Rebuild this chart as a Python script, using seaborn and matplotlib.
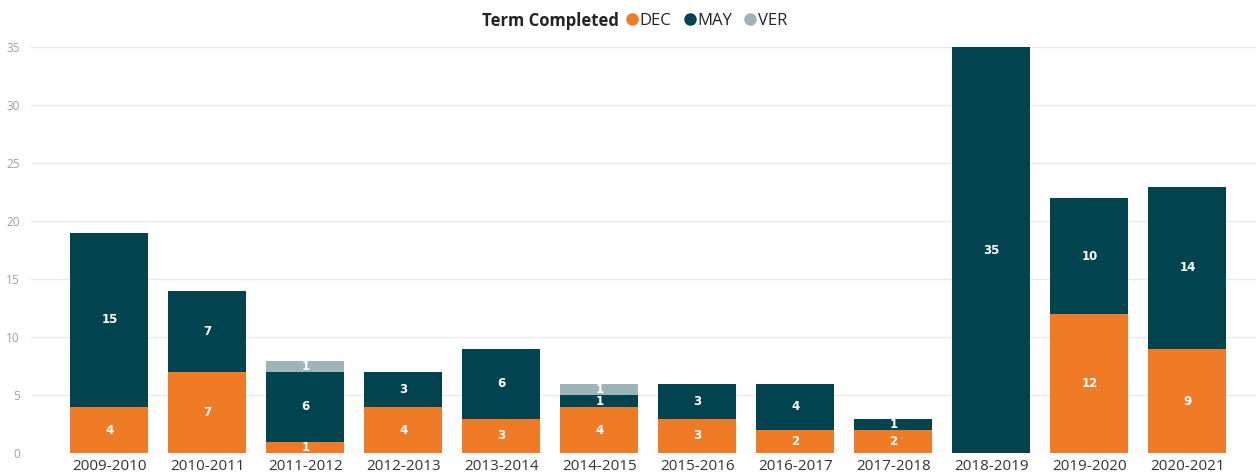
import matplotlib
matplotlib.use("Agg")
import matplotlib.pyplot as plt
from matplotlib.lines import Line2D
import seaborn as sns
import numpy as np
import pandas as pd

years = ["2009-2010", "2010-2011", "2011-2012", "2012-2013", "2013-2014", "2014-2015",
         "2015-2016", "2016-2017", "2017-2018", "2018-2019", "2019-2020", "2020-2021"]
dec = [4, 7, 1, 4, 3, 4, 3, 2, 2, 0, 12, 9]
may = [15, 7, 6, 3, 6, 1, 3, 4, 1, 35, 10, 14]
ver = [0, 0, 1, 0, 0, 1, 0, 0, 0, 0, 0, 0]

series_names = ["DEC", "MAY", "VER"]
colors = {"DEC": "#F07B26", "MAY": "#01434F", "VER": "#9DB4B8"}

sns.set_theme(style="white")
plt.rcParams['font.family'] = ['Open Sans', 'DejaVu Sans']

fig = plt.figure(figsize=(12.56, 4.74), dpi=100)
ax = fig.add_axes([31/1256, 20.7/474, 1 - 31/1256, (453.3-47.3)/474])

d = np.array(dec); m = np.array(may); v = np.array(ver)
cum_dec = d
cum_may = d + m
cum_ver = d + m + v

df = pd.DataFrame({"year": years, "ver": cum_ver, "may": cum_may, "dec": cum_dec})

w = 0.795
sns.barplot(data=df, x="year", y="ver", color=colors["VER"], width=w, saturation=1, linewidth=0, ax=ax)
sns.barplot(data=df, x="year", y="may", color=colors["MAY"], width=w, saturation=1, linewidth=0, ax=ax)
sns.barplot(data=df, x="year", y="dec", color=colors["DEC"], width=w, saturation=1, linewidth=0, ax=ax)

# segment labels
for i in range(len(years)):
    segs = [(0, d[i]), (d[i], m[i]), (d[i] + m[i], v[i])]
    for base, val in segs:
        if val > 0:
            ax.text(i, base + val / 2, str(val), ha="center", va="center",
                    color="white", fontsize=8.5, fontweight="bold",
                    family=["DejaVu Sans"])

ax.set_ylim(0, 35)
ax.set_xlim(-0.80, 11.70)
ax.set_yticks(range(0, 36, 5))
ax.yaxis.grid(True, color="#EAEAEA", linewidth=1)
ax.set_axisbelow(True)
for s in ax.spines.values():
    s.set_visible(False)
ax.set_xlabel("")
ax.set_ylabel("")
ax.tick_params(axis="y", labelsize=8.5, colors="#A0A0A0", length=0, pad=8)
ax.tick_params(axis="x", labelsize=11, colors="#333333", length=0, pad=4)

# legend
fig.text(619/1256, 1 - 21/474, "Term Completed", ha="right", va="center",
         fontsize=12, fontweight="bold", color="#252423")
handles = [Line2D([], [], marker="o", linestyle="none", markersize=8,
                  markerfacecolor=colors[n], markeredgecolor=colors[n]) for n in series_names]
leg = fig.legend(handles, series_names, loc="center left",
                 bbox_to_anchor=(627/1256, 1 - 21/474), ncol=3, frameon=False,
                 fontsize=12, handlelength=0.6, handletextpad=0.15, columnspacing=0.8,
                 borderaxespad=0, borderpad=0)
for t in leg.get_texts():
    t.set_color("#252423")

fig.savefig("out.png", dpi=100)
